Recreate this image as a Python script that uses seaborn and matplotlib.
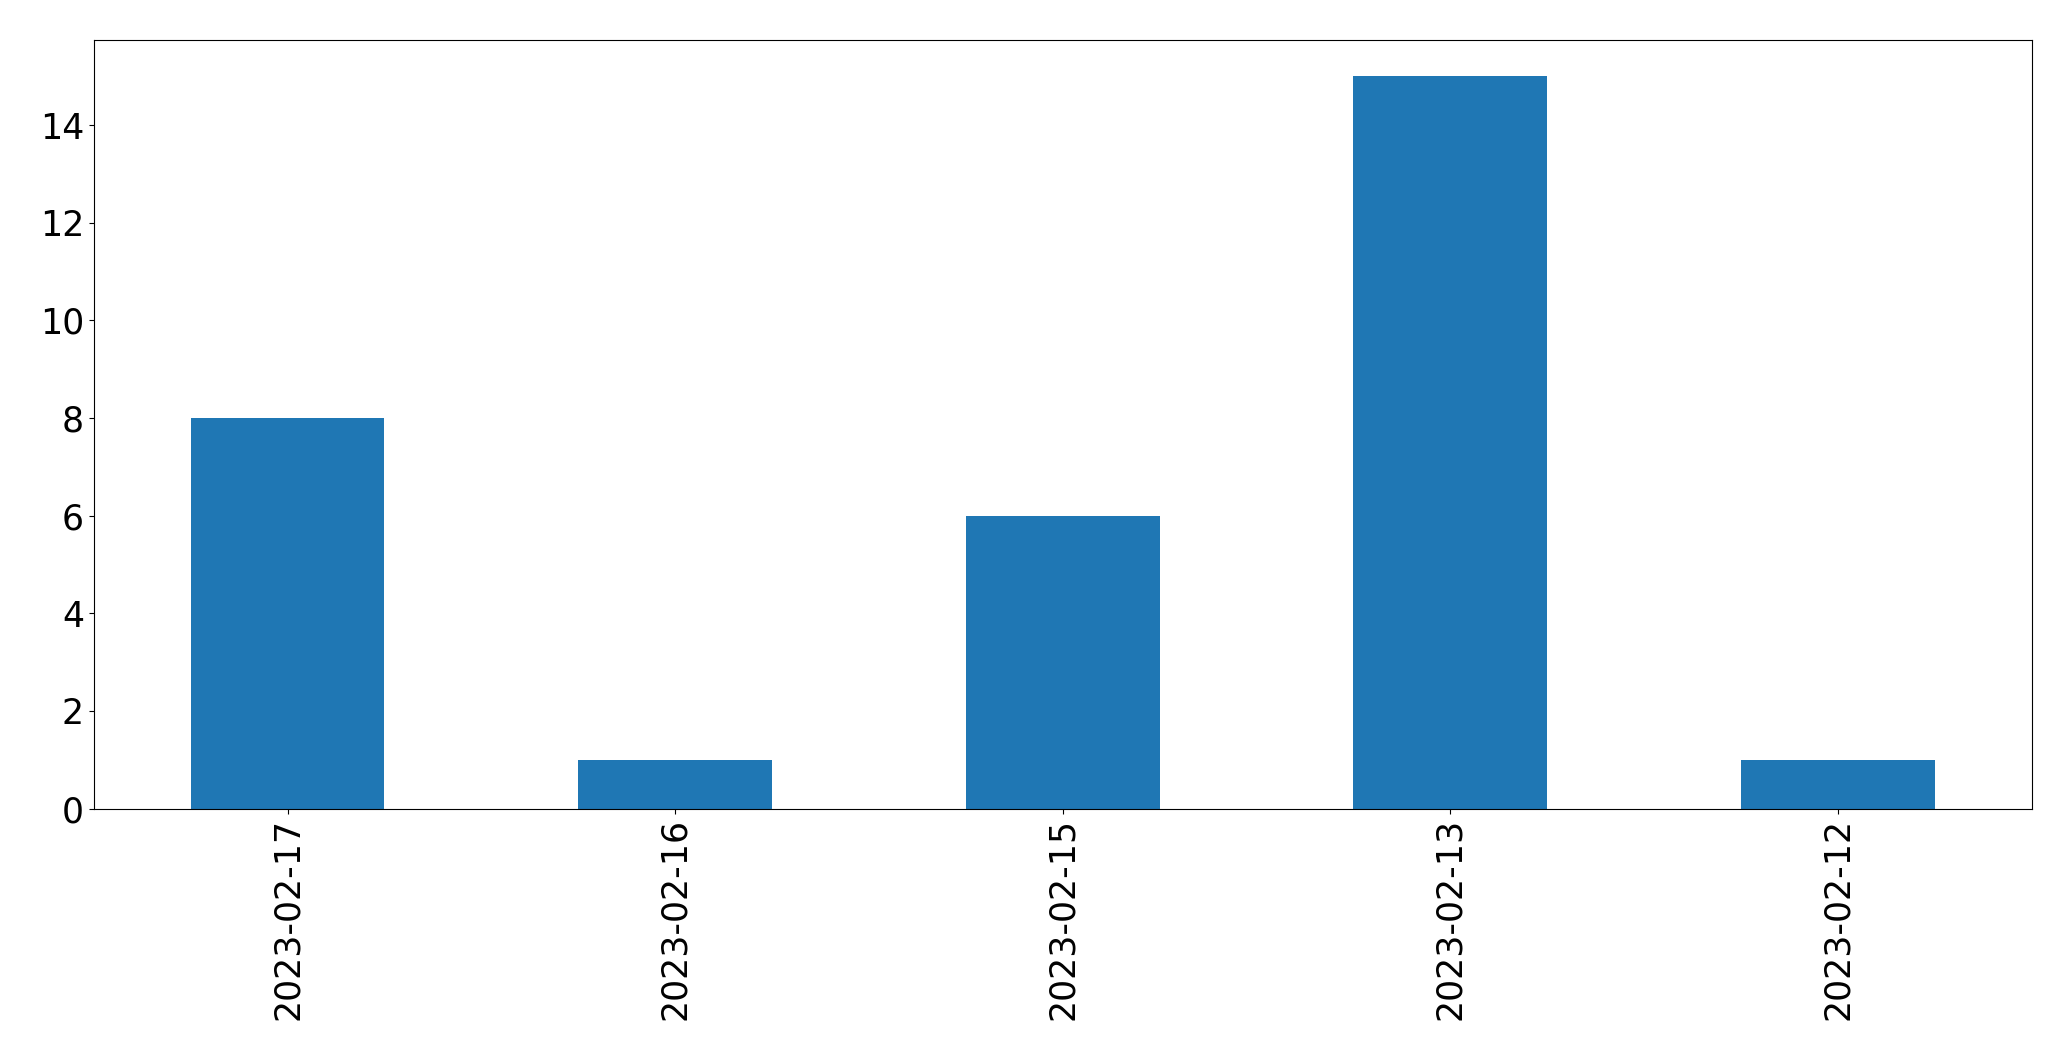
import matplotlib
matplotlib.use("Agg")
import matplotlib.pyplot as plt
import seaborn as sns

# Counts per date, in the order shown
dates = ['2023-02-17', '2023-02-16', '2023-02-15', '2023-02-13', '2023-02-12']
counts = [8, 1, 6, 15, 1]

fig, ax = plt.subplots(figsize=(20.71, 10.61), dpi=100)
sns.barplot(x=dates, y=counts, width=0.5, color='#1f77b4', saturation=1,
            linewidth=0, ax=ax)

ax.set_xlim(-0.5, len(dates) - 0.5)
ax.set_ylim(0, max(counts) * 1.05)
ax.tick_params(axis='both', labelsize=25)
plt.xticks(rotation=90)
ax.set_xlabel('')
ax.set_ylabel('')

fig.subplots_adjust(left=0.0453, right=0.981, top=0.9626, bottom=0.2379)
plt.savefig('out.png', dpi=100)
